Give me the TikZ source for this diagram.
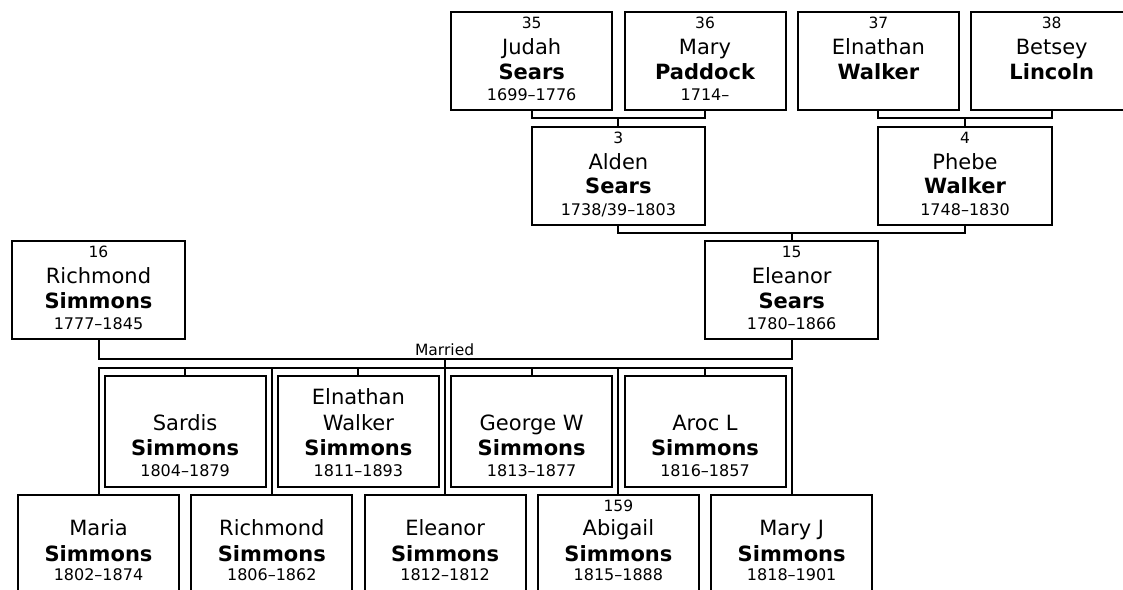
\documentclass[tikz,border=0pt]{standalone}
\usepackage{fontspec}
\setmainfont{DejaVu Sans}
\newcommand\mkbox[5]{\node[pbox, minimum width=#4pt, minimum height=#5pt, anchor=north] (#1) at (#2,#3) {};}
\newcommand\mkline[5]{\node[#3] (#1#2) at ([yshift=-#4pt]#1.north) {#5};}
\begin{document}
\begin{tikzpicture}[x=1pt,y=-1pt,
  pbox/.style={draw, fill=white, rectangle, inner sep=0pt, outer sep=0pt, line width=2pt},
  numtxt/.style={font=\fontsize{15.5}{18}\selectfont, inner sep=0pt, outer sep=0pt, anchor=base},
  nametxt/.style={font=\fontsize{21}{25}\selectfont, inner sep=0pt, outer sep=0pt, anchor=base},
  surtxt/.style={font=\fontsize{21}{25}\selectfont\bfseries, inner sep=0pt, outer sep=0pt, anchor=base},
  datetxt/.style={font=\fontsize{16}{19}\selectfont, inner sep=0pt, outer sep=0pt, anchor=base},
  conn/.style={draw, line width=2pt, line join=miter}]
\useasboundingbox (0,0) rectangle (1123,589);
% row 1
\mkbox{judah}{531.7}{12}{161}{98}
\mkbox{mary}{705}{12}{161}{98}
\mkbox{elnathan}{878.4}{12}{161}{98}
\mkbox{betsey}{1051.7}{12}{161}{98}
% row 2
\mkbox{alden}{618.4}{126.7}{173.3}{98.3}
\mkbox{phebe}{965}{126.7}{173.3}{98.3}
% row 3
\mkbox{richmond}{98.5}{241}{173.3}{98}
\mkbox{eleanor}{791.7}{241}{173.3}{98}
% upper children
\mkbox{sardis}{185.1}{376}{161}{111}
\mkbox{elwalker}{358.4}{376}{161}{111}
\mkbox{georgew}{531.7}{376}{161}{111}
\mkbox{arocl}{705}{376}{161}{111}
% bottom children
\mkbox{maria}{98.5}{494.5}{161}{98}
\mkbox{richmondj}{271.8}{494.5}{161}{98}
\mkbox{eleanorj}{445.1}{494.5}{161}{98}
\mkbox{abigail}{618.4}{494.5}{161}{98}
\mkbox{maryj}{791.7}{494.5}{161}{98}
% texts row 1
\mkline{judah}{n}{numtxt}{16.5}{35}
\mkline{judah}{a}{nametxt}{42.3}{Judah}
\mkline{judah}{b}{surtxt}{67}{Sears}
\mkline{judah}{d}{datetxt}{88.5}{1699–1776}
\mkline{mary}{n}{numtxt}{16.5}{36}
\mkline{mary}{a}{nametxt}{42.3}{Mary}
\mkline{mary}{b}{surtxt}{67}{Paddock}
\mkline{mary}{d}{datetxt}{88.5}{1714–}
\mkline{elnathan}{n}{numtxt}{16.5}{37}
\mkline{elnathan}{a}{nametxt}{42.3}{Elnathan}
\mkline{elnathan}{b}{surtxt}{67}{Walker}
\mkline{betsey}{n}{numtxt}{16.5}{38}
\mkline{betsey}{a}{nametxt}{42.3}{Betsey}
\mkline{betsey}{b}{surtxt}{67}{Lincoln}
% row 2
\mkline{alden}{n}{numtxt}{16.5}{3}
\mkline{alden}{a}{nametxt}{42.3}{Alden}
\mkline{alden}{b}{surtxt}{67}{Sears}
\mkline{alden}{d}{datetxt}{88.5}{1738/39–1803}
\mkline{phebe}{n}{numtxt}{16.5}{4}
\mkline{phebe}{a}{nametxt}{42.3}{Phebe}
\mkline{phebe}{b}{surtxt}{67}{Walker}
\mkline{phebe}{d}{datetxt}{88.5}{1748–1830}
% row 3
\mkline{richmond}{n}{numtxt}{16.5}{16}
\mkline{richmond}{a}{nametxt}{42.3}{Richmond}
\mkline{richmond}{b}{surtxt}{67}{Simmons}
\mkline{richmond}{d}{datetxt}{88.5}{1777–1845}
\mkline{eleanor}{n}{numtxt}{16.5}{15}
\mkline{eleanor}{a}{nametxt}{42.3}{Eleanor}
\mkline{eleanor}{b}{surtxt}{67}{Sears}
\mkline{eleanor}{d}{datetxt}{88.5}{1780–1866}
% upper children
\mkline{sardis}{a}{nametxt}{54.4}{Sardis}
\mkline{sardis}{b}{surtxt}{79.8}{Simmons}
\mkline{sardis}{d}{datetxt}{100.7}{1804–1879}
\mkline{elwalker}{z}{nametxt}{28.4}{Elnathan}
\mkline{elwalker}{a}{nametxt}{54.4}{Walker}
\mkline{elwalker}{b}{surtxt}{79.8}{Simmons}
\mkline{elwalker}{d}{datetxt}{100.7}{1811–1893}
\mkline{georgew}{a}{nametxt}{54.4}{George W}
\mkline{georgew}{b}{surtxt}{79.8}{Simmons}
\mkline{georgew}{d}{datetxt}{100.7}{1813–1877}
\mkline{arocl}{a}{nametxt}{54.4}{Aroc L}
\mkline{arocl}{b}{surtxt}{79.8}{Simmons}
\mkline{arocl}{d}{datetxt}{100.7}{1816–1857}
% bottom children
\mkline{maria}{a}{nametxt}{41}{Maria}
\mkline{maria}{b}{surtxt}{66.7}{Simmons}
\mkline{maria}{d}{datetxt}{86}{1802–1874}
\mkline{richmondj}{a}{nametxt}{41}{Richmond}
\mkline{richmondj}{b}{surtxt}{66.7}{Simmons}
\mkline{richmondj}{d}{datetxt}{86}{1806–1862}
\mkline{eleanorj}{a}{nametxt}{41}{Eleanor}
\mkline{eleanorj}{b}{surtxt}{66.7}{Simmons}
\mkline{eleanorj}{d}{datetxt}{86}{1812–1812}
\mkline{abigail}{n}{numtxt}{16.7}{159}
\mkline{abigail}{a}{nametxt}{41}{Abigail}
\mkline{abigail}{b}{surtxt}{66.7}{Simmons}
\mkline{abigail}{d}{datetxt}{86}{1815–1888}
\mkline{maryj}{a}{nametxt}{41}{Mary J}
\mkline{maryj}{b}{surtxt}{66.7}{Simmons}
\mkline{maryj}{d}{datetxt}{86}{1818–1901}
% connector coordinates
\coordinate (jmbar) at (0,117.7);
\coordinate (ebbar) at (0,117.7);
\coordinate (apbar) at (0,232.7);
\coordinate (mbar) at (0,359.3);
\coordinate (cbar) at (0,368);
\coordinate (mmid) at (445.1,359.3);
% parents connectors
\draw[conn] (judah.south) |- (mary.south |- jmbar) -- (mary.south);
\draw[conn] (alden.north) -- (alden.north |- jmbar);
\draw[conn] (elnathan.south) |- (betsey.south |- ebbar) -- (betsey.south);
\draw[conn] (phebe.north) -- (phebe.north |- ebbar);
\draw[conn] (alden.south) |- (phebe.south |- apbar) -- (phebe.south);
\draw[conn] (eleanor.north) -- (eleanor.north |- apbar);
% marriage
\draw[conn] (richmond.south) |- (eleanor.south |- mbar) -- (eleanor.south);
\node[numtxt] (married) at (444.6,355) {Married};
\draw[conn] (mmid) -- (mmid |- cbar);
% children bar
\draw[conn] (maria.north) |- (maryj.north |- cbar) -- (maryj.north);
\draw[conn] (richmondj.north) -- (richmondj.north |- cbar);
\draw[conn] (eleanorj.north) -- (eleanorj.north |- cbar);
\draw[conn] (abigail.north) -- (abigail.north |- cbar);
\draw[conn] (sardis.north) -- (sardis.north |- cbar);
\draw[conn] (elwalker.north) -- (elwalker.north |- cbar);
\draw[conn] (georgew.north) -- (georgew.north |- cbar);
\draw[conn] (arocl.north) -- (arocl.north |- cbar);
\end{tikzpicture}
\end{document}
